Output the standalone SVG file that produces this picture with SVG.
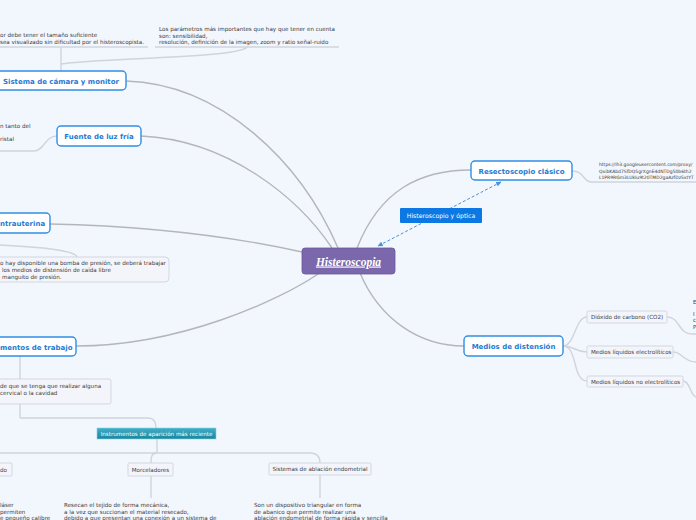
<svg xmlns="http://www.w3.org/2000/svg" width="696" height="520" viewBox="0 0 696 520">
<defs>
<style>
.bg{fill:#f2f6fd}
.topic rect{fill:#ffffff;stroke:#2f8ee6;stroke-width:1.4}
.topic text{font-family:"DejaVu Sans",Verdana,sans-serif;font-weight:bold;font-size:7px;fill:#1f7ad3}
.sub rect{fill:#f3f5fb;stroke:#d3d7df;stroke-width:1}
.sub text,.note text{font-family:"DejaVu Sans",Verdana,sans-serif;font-size:5.6px;fill:#3b3b3b}
.main{fill:none;stroke:#b4b6ba;stroke-width:1.4}
.br{fill:none;stroke:#d0d4dc;stroke-width:1.4}
.dash{fill:none;stroke:#4a90d9;stroke-width:1;stroke-dasharray:3,2}
</style>
<linearGradient id="teal" x1="0" y1="0" x2="0" y2="1">
<stop offset="0" stop-color="#3fb0c8"/>
<stop offset="1" stop-color="#17869f"/>
</linearGradient>
<marker id="ah" viewBox="0 0 10 10" refX="8" refY="5" markerWidth="6" markerHeight="6" orient="auto-start-reverse">
<path d="M0,1 L9,5 L0,9 z" fill="#4a90d9"/>
</marker>
</defs>
<rect class="bg" x="0" y="0" width="696" height="520"/>

<g id="connectors">
<path class="main" d="M126,81 C220,84 300,160 338,248"/>
<path class="main" d="M141,136 C230,140 300,200 332,248"/>
<path class="main" d="M50,224 C140,226 230,236 302,252"/>
<path class="main" d="M76,346 C180,346 280,300 318,274"/>
<path class="main" d="M357,248 C380,190 420,170 471,170"/>
<path class="main" d="M360,273 C380,320 420,346 464,346"/>
<line class="dash" x1="501" y1="182" x2="378" y2="246" marker-start="url(#ah)" marker-end="url(#ah)"/>
<line class="br" x1="0" y1="47" x2="148" y2="47"/>
<line class="br" x1="155" y1="47" x2="339" y2="47"/>
<line class="br" x1="61" y1="47" x2="61" y2="71"/>
<path class="br" d="M61,64 C100,58 240,58 247,47"/>
<path class="br" d="M0,151 L34,151 C44,151 45,136 57,136"/>
<path class="br" d="M0,245 C40,247 75,250 77,257"/>
<line class="br" x1="20" y1="356" x2="20" y2="379"/>
<line class="br" x1="20" y1="404" x2="20" y2="418"/>
<path class="br" d="M20,418 L148,418 C154,418 156,422 156,428"/>
<line class="br" x1="157" y1="439" x2="157" y2="453"/>
<path class="br" d="M0,453 L310,453 C317,453 320,456 320,463"/>
<path class="br" d="M157,453 C152,453 151,456 151,463"/>
<line class="br" x1="151" y1="476" x2="151" y2="498"/>
<line class="br" x1="320" y1="475" x2="320" y2="498"/>
<path class="br" d="M572,171 C585,171 582,182 592,182 L696,182"/>
<path class="br" d="M563,346 C575,346 575,317 587,317"/>
<path class="br" d="M563,346 C575,346 575,352 587,352"/>
<path class="br" d="M563,346 C578,346 572,381 587,381"/>
<path class="br" d="M667,317 C680,317 678,334 692,334 L696,334"/>
<path class="br" d="M673,352 C683,352 683,362 696,362"/>
<path class="br" d="M683,381 C690,381 690,395 696,397"/>
</g>

<g id="center">
<rect x="302" y="248" width="93" height="26" rx="3" fill="#7b67ab" stroke="#6a589a" stroke-width="0.8"/>
<text x="348.5" y="265.5" text-anchor="middle" font-family="'Liberation Serif',serif" font-size="11.5px" font-weight="bold" font-style="italic" fill="#ffffff" text-decoration="underline">Histeroscopia</text>
</g>

<g id="camara" class="topic">
<rect x="-6" y="71" width="132" height="19" rx="4"/>
<text x="3" y="83.5">Sistema de cámara y monitor</text>
</g>
<g id="camara-note1" class="note">
<text x="0" y="37">or debe tener el tamaño suficiente</text>
<text x="0" y="44">sea visualizado sin dificultad por el histeroscopista.</text>
</g>
<g id="camara-note2" class="note">
<text x="159" y="31">Los parámetros más importantes que hay que tener en cuenta</text>
<text x="159" y="37.5">son: sensibilidad,</text>
<text x="159" y="44">resolución, definición de la imagen, zoom y ratio señal-ruido</text>
</g>

<g id="fuente" class="topic">
<rect x="57" y="126" width="84" height="20" rx="4"/>
<text x="99" y="138.5" text-anchor="middle">Fuente de luz fría</text>
</g>
<g id="fuente-note" class="note">
<text x="0" y="128">n tanto del</text>
<text x="0" y="141">ristal</text>
</g>

<g id="intrauterina" class="topic">
<rect x="-6" y="213" width="56" height="20" rx="4"/>
<text x="0" y="225.5">ntrauterina</text>
</g>
<g id="intrauterina-note" class="sub">
<rect x="-6" y="257" width="175" height="25" rx="4"/>
<text x="0" y="265">o hay disponible una bomba de presión, se deberá trabajar</text>
<text x="2" y="272">los medios de distensión de caída libre</text>
<text x="2" y="279">manguito de presión.</text>
</g>

<g id="trabajo" class="topic">
<rect x="-6" y="337" width="82" height="19" rx="4"/>
<text x="0" y="349.5">mentos de trabajo</text>
</g>
<g id="trabajo-note" class="sub">
<rect x="-6" y="379" width="117" height="25" rx="2"/>
<text x="0" y="388">de que se tenga que realizar alguna</text>
<text x="0" y="394.5">cervical o la cavidad</text>
</g>

<g id="recientes">
<rect x="97" y="428" width="119" height="11" fill="url(#teal)" stroke="#8fd0e2" stroke-width="0.6"/>
<text x="156.5" y="435.8" text-anchor="middle" font-family="'DejaVu Sans',Verdana,sans-serif" font-size="5.6px" fill="#ffffff">Instrumentos de aparición más reciente</text>
</g>

<g id="laser" class="sub">
<rect x="-6" y="463" width="18" height="13" rx="1"/>
<text x="0" y="471.5">do</text>
</g>
<g id="laser-note" class="note">
<text x="0" y="507">láser</text>
<text x="0" y="513.5">permiten</text>
<text x="0" y="520">e pequeño calibre</text>
</g>

<g id="morceladores" class="sub">
<rect x="128" y="463" width="45" height="13" rx="1"/>
<text x="150.5" y="471.5" text-anchor="middle">Morceladores</text>
</g>
<g id="morceladores-note" class="note">
<text x="64" y="507">Resecan el tejido de forma mecánica,</text>
<text x="64" y="513.5"> a la vez que succionan el material resecado,</text>
<text x="64" y="520">debido a que presentan una conexión a un sistema de</text>
</g>

<g id="ablacion" class="sub">
<rect x="269" y="463" width="102" height="12" rx="1"/>
<text x="320" y="471" text-anchor="middle">Sistemas de ablación endometrial</text>
</g>
<g id="ablacion-note" class="note">
<text x="254" y="507">Son un dispositivo triangular en forma</text>
<text x="254" y="513.5"> de abanico que permite realizar una</text>
<text x="254" y="520"> ablación endometrial de forma rápida y sencilla</text>
</g>

<g id="optica">
<rect x="400" y="208" width="82" height="15" rx="1" fill="#0b78e3"/>
<text x="441" y="218" text-anchor="middle" font-family="'DejaVu Sans',Verdana,sans-serif" font-size="6.2px" fill="#ffffff">Histeroscopio y óptica</text>
</g>

<g id="resectoscopio" class="topic">
<rect x="471" y="161" width="101" height="19" rx="4"/>
<text x="521.5" y="173.5" text-anchor="middle">Resectoscopio clásico</text>
</g>
<g id="resectoscopio-note" class="note">
<text x="599" y="166" style="font-size:4.5px">https://lh3.googleusercontent.com/proxy/</text>
<text x="599" y="172.5" style="font-size:4.5px">QxibKAbd7SfDQ5grXgnE4dNTDg50b6th2</text>
<text x="599" y="179" style="font-size:4.5px">L1PR9RGm3LUklu9t20TMD2gaAzfDz5xtYT</text>
</g>

<g id="medios" class="topic">
<rect x="464" y="336" width="99" height="20" rx="4"/>
<text x="513.5" y="348.5" text-anchor="middle">Medios de distensión</text>
</g>
<g id="co2" class="sub">
<rect x="587" y="311" width="80" height="12" rx="1.5"/>
<text x="591" y="319">Dióxido de carbono (CO2)</text>
</g>
<g id="co2-note" class="note">
<text x="693" y="304">E</text>
<text x="693" y="316">I</text>
<text x="693" y="322">c</text>
<text x="693" y="328.5">P</text>
</g>
<g id="electroliticos" class="sub">
<rect x="587" y="346" width="86" height="12" rx="1.5"/>
<text x="591" y="354">Medios líquidos electrolíticos</text>
</g>
<g id="noelectroliticos" class="sub">
<rect x="587" y="376" width="96" height="11" rx="1.5"/>
<text x="591" y="383.8">Medios líquidos no electrolíticos</text>
</g>
</svg>
